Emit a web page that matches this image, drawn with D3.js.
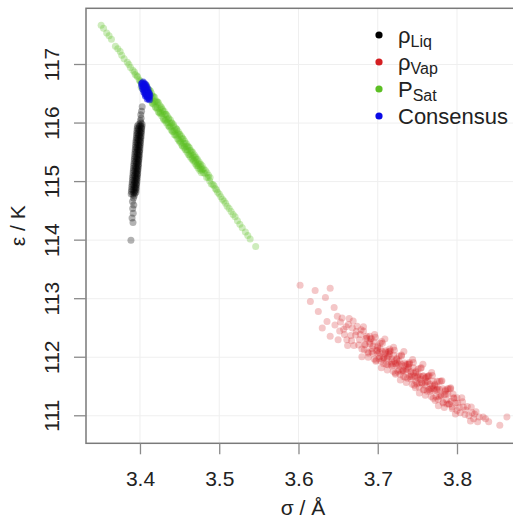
<!DOCTYPE html>
<html><head><meta charset="utf-8">
<script src="https://cdn.jsdelivr.net/npm/d3@7"></script>
<style>
html,body{margin:0;padding:0;background:#fff;}
svg{display:block;font-family:"Liberation Sans",Arial,Helvetica,sans-serif;}
</style></head>
<body>
<svg id="chart" width="513" height="519"></svg>
<script>
// ---- data: [sigma (Å), epsilon (K)] ----
const liqPoints = [
 [3.4028,116.28],[3.4020,116.20],[3.4010,116.14],[3.4015,116.08],[3.4005,116.04],
 [3.4012,116.00],[3.3985,115.98],[3.4005,115.96],[3.3992,115.94],[3.4015,115.92],[3.3980,115.90],
 [3.4000,115.88],[3.3990,115.86],[3.4008,115.84],[3.3975,115.82],[3.3995,115.80],[3.3982,115.78],
 [3.4002,115.76],[3.3970,115.74],[3.3990,115.72],[3.3978,115.70],[3.3998,115.68],[3.3965,115.66],
 [3.3985,115.64],[3.3975,115.62],[3.3992,115.60],[3.3960,115.58],[3.3980,115.56],[3.3970,115.54],
 [3.3988,115.52],[3.3958,115.50],[3.3976,115.48],[3.3966,115.46],[3.3984,115.44],[3.3952,115.42],
 [3.3972,115.40],[3.3962,115.38],[3.3980,115.36],[3.3948,115.34],[3.3968,115.32],[3.3955,115.30],
 [3.3975,115.28],[3.3942,115.26],[3.3962,115.24],[3.3950,115.22],[3.3968,115.20],[3.3938,115.18],
 [3.3958,115.16],[3.3946,115.14],[3.3962,115.12],[3.3932,115.10],[3.3952,115.08],[3.3940,115.06],
 [3.3956,115.04],[3.3926,115.02],[3.3945,115.00],[3.3933,114.98],[3.3950,114.96],[3.3920,114.94],
 [3.3940,114.92],[3.3928,114.90],[3.3944,114.88],[3.3915,114.86],[3.3934,114.84],[3.3922,114.82],
 [3.3936,114.80],[3.3912,114.78],[3.3928,114.76],
 [3.3918,114.72],[3.3905,114.66],[3.3922,114.60],[3.3908,114.54],[3.3915,114.46],[3.3900,114.38],
 [3.3912,114.30],[3.3886,114.00],
 [3.4027,115.98],[3.4025,115.94],[3.4022,115.90],[3.4019,115.86],[3.4017,115.82],[3.4014,115.78],
 [3.4011,115.74],[3.4008,115.70],[3.4006,115.66],[3.4003,115.62],[3.4000,115.58],[3.3998,115.54],
 [3.3995,115.50],[3.3992,115.46],[3.3990,115.42],[3.3987,115.38],[3.3984,115.34],[3.3981,115.30],
 [3.3979,115.26],[3.3976,115.22],[3.3973,115.18],[3.3971,115.14],[3.3968,115.10],[3.3965,115.06],
 [3.3963,115.02],[3.3960,114.98],[3.3957,114.94],[3.3954,114.90],[3.3952,114.86],[3.3949,114.82],
 [3.3967,115.95],[3.3965,115.91],[3.3962,115.87],[3.3959,115.83],[3.3957,115.79],[3.3954,115.75],
 [3.3951,115.71],[3.3948,115.67],[3.3946,115.63],[3.3943,115.59],[3.3940,115.55],[3.3938,115.51],
 [3.3935,115.47],[3.3932,115.43],[3.3930,115.39],[3.3927,115.35],[3.3924,115.31],[3.3921,115.27],
 [3.3919,115.23],[3.3916,115.19],[3.3913,115.15],[3.3911,115.11],[3.3908,115.07],[3.3905,115.03],
 [3.3903,114.99],[3.3900,114.95],[3.3897,114.91],[3.3894,114.87],[3.3892,114.83],[3.3889,114.79]
];
const vapPoints = [
 [3.602,113.23],[3.621,113.14],[3.634,113.02],[3.640,113.18],[3.625,112.78],[3.636,112.61],
 [3.649,112.70],[3.640,112.36],[3.615,112.95],[3.645,112.85],[3.652,112.45],[3.630,112.50],
 [3.655,112.67],[3.658,112.39],[3.660,112.52],[3.662,112.20],[3.664,112.66],[3.666,112.37],
 [3.668,112.50],[3.670,112.20],[3.672,112.38],[3.674,112.53],[3.676,112.21],[3.678,112.39],
 [3.680,112.01],[3.682,112.52],[3.684,112.22],[3.686,112.36],[3.688,112.07],[3.690,112.26],
 [3.646,112.55],[3.650,112.30],[3.653,112.60],[3.657,112.48],[3.661,112.30],[3.663,112.56],
 [3.667,112.28],[3.669,112.62],[3.673,112.44],[3.677,112.30],[3.679,112.47],[3.683,112.13],
 [3.6910,112.31],[3.6925,112.10],[3.6940,112.19],[3.6955,111.97],[3.6970,112.34],[3.6985,112.11],
 [3.7000,112.19],[3.7015,111.98],[3.7030,112.24],[3.7045,111.82],[3.7060,112.10],[3.7075,111.99],
 [3.7090,112.31],[3.7105,111.88],[3.7120,112.00],[3.7135,112.09],[3.7150,112.10],[3.7165,111.88],
 [3.7180,111.97],[3.7195,111.76],[3.7210,112.12],[3.7225,111.89],[3.7240,111.98],[3.7255,111.76],
 [3.7270,112.02],[3.7285,111.61],[3.7300,111.88],[3.7315,111.78],[3.7330,112.10],[3.7345,111.66],
 [3.7360,111.79],[3.7375,111.88],[3.7390,111.88],[3.7405,111.67],[3.7420,111.75],[3.7435,111.54],
 [3.7450,111.91],[3.7465,111.67],[3.7480,111.76],[3.7495,111.55],[3.7510,111.80],[3.7525,111.39],
 [3.7540,111.67],[3.7555,111.56],[3.7570,111.88],[3.7585,111.45],[3.7600,111.57],[3.7615,111.66],
 [3.7630,111.67],[3.7645,111.45],[3.7660,111.54],[3.7675,111.33],[3.7690,111.69],[3.7705,111.46],
 [3.7720,111.54],[3.7735,111.33],[3.7750,111.59],[3.7765,111.17],[3.7780,111.45],[3.7795,111.35],
 [3.7810,111.60],[3.7825,111.23],[3.7840,111.36],[3.7855,111.44],[3.7870,111.27],[3.7885,111.37],
 [3.7900,111.20],
 [3.700,112.06],[3.703,112.15],[3.706,111.97],[3.709,112.06],[3.712,111.98],[3.715,112.06],
 [3.718,111.88],[3.721,111.93],[3.724,111.86],[3.727,111.93],[3.730,111.76],[3.733,111.85],
 [3.736,111.76],[3.739,111.83],[3.742,111.67],[3.745,111.73],[3.748,111.59],[3.751,111.70],
 [3.754,111.62],[3.757,111.68],[3.760,111.52],[3.763,111.59],[3.766,111.45],[3.769,111.51],
 [3.772,111.43],[3.775,111.49],
 [3.680,112.14],[3.682,112.45],[3.684,112.21],[3.686,112.33],[3.688,112.00],[3.690,112.23],
 [3.692,112.32],[3.694,112.07],[3.696,112.39],[3.698,111.95],[3.700,112.17],[3.702,112.08],
 [3.704,111.93],[3.706,112.24],[3.708,111.99],[3.710,112.11],[3.712,111.78],[3.714,112.02],
 [3.716,112.11],[3.718,111.85],[3.720,112.17],[3.722,111.73],[3.724,111.96],[3.726,111.87],
 [3.728,111.71],[3.730,112.02],[3.732,111.77],[3.734,111.90],[3.736,111.57],[3.738,111.80],
 [3.740,111.89],[3.742,111.63],[3.744,111.96],[3.746,111.52],[3.748,111.74],[3.750,111.65],
 [3.752,111.49],[3.754,111.81],[3.756,111.56],[3.758,111.68],[3.760,111.35],[3.762,111.58],
 [3.764,111.68],[3.766,111.42],[3.768,111.74],[3.770,111.30],[3.772,111.52],[3.774,111.44],
 [3.776,111.28],[3.778,111.59],[3.780,111.34],[3.782,111.46],[3.784,111.14],[3.786,111.37],
 [3.788,111.46],[3.790,111.20],[3.792,111.48],[3.794,111.12],[3.796,111.31],[3.798,111.22],
 [3.800,111.09],
 [3.6850,112.32],[3.6875,112.09],[3.6900,112.36],[3.6925,112.15],[3.6950,112.27],[3.6975,111.93],
 [3.7000,112.12],[3.7025,112.01],[3.7050,112.27],[3.7075,111.89],[3.7100,112.09],[3.7125,111.87],
 [3.7150,112.14],[3.7175,111.92],[3.7200,112.04],[3.7225,111.71],[3.7250,111.90],[3.7275,111.78],
 [3.7300,112.04],[3.7325,111.67],[3.7350,111.87],[3.7375,111.64],[3.7400,111.91],[3.7425,111.70],
 [3.7450,111.82],[3.7475,111.48],[3.7500,111.67],[3.7525,111.56],[3.7550,111.82],[3.7575,111.44],
 [3.7600,111.64],[3.7625,111.42],[3.7650,111.69],[3.7675,111.47],[3.7700,111.59],[3.7725,111.26],
 [3.7750,111.45],[3.7775,111.33],[3.7800,111.59],[3.7825,111.22],[3.7850,111.42],[3.7875,111.20],
 [3.7900,111.46],[3.7925,111.25],[3.7950,111.37],
 [3.792,111.46],[3.794,111.15],[3.796,111.30],[3.798,111.03],[3.800,111.31],[3.803,111.14],
 [3.806,111.31],[3.808,111.15],[3.810,111.02],[3.813,111.16],[3.817,110.91],[3.819,111.05],
 [3.822,111.03],[3.826,110.90],[3.833,110.98],[3.840,110.90],[3.854,110.84],[3.863,110.98],
 [3.801,111.22],[3.804,111.05],[3.807,111.24],[3.811,111.10],[3.815,111.00],[3.818,111.15],
 [3.821,110.95],[3.824,111.07],[3.828,110.98],[3.836,110.95]
];
const satPoints = [
 [3.351,117.67],[3.358,117.54],[3.364,117.43],[3.369,117.31],[3.375,117.22],[3.380,117.10],
 [3.384,117.04],[3.388,116.95],[3.391,116.90],[3.394,116.83],[3.397,116.79],[3.399,116.74],
 [3.401,116.70],[3.403,116.67],
 [3.354,117.62],[3.361,117.49],[3.372,117.27],[3.377,117.16],[3.386,117.00],[3.393,116.87],
 [3.396,116.81],[3.400,116.72],[3.402,116.68],
 [3.404,116.69],[3.405,116.56],[3.406,116.62],[3.407,116.55],[3.408,116.64],[3.409,116.47],
 [3.410,116.53],[3.411,116.55],[3.412,116.44],[3.413,116.55],[3.414,116.43],[3.415,116.46],
 [3.416,116.34],[3.417,116.45],[3.418,116.36],[3.419,116.37],[3.420,116.27],[3.421,116.36],
 [3.422,116.26],[3.423,116.35],[3.424,116.18],[3.425,116.25],[3.426,116.18],[3.427,116.26],
 [3.428,116.16],[3.429,116.20],[3.430,116.06],[3.431,116.15],[3.432,116.05],[3.433,116.15],
 [3.434,116.06],[3.435,116.01],[3.436,116.07],[3.437,115.94],[3.438,116.00],[3.439,115.95],
 [3.440,116.00],[3.441,115.86],[3.442,115.95],[3.443,115.86],[3.444,115.88],[3.445,115.80],
 [3.446,115.90],[3.447,115.79],[3.448,115.82],[3.449,115.71],[3.450,115.80],[3.451,115.69],
 [3.452,115.73],[3.453,115.62],[3.454,115.73],[3.455,115.65],[3.456,115.60],[3.457,115.65],
 [3.458,115.55],[3.459,115.60],[3.460,115.54],[3.461,115.59],[3.462,115.46],[3.463,115.53],
 [3.464,115.47],[3.465,115.50],[3.466,115.40],[3.467,115.44],[3.468,115.37],[3.469,115.41],
 [3.470,115.34],[3.471,115.38],[3.472,115.28],[3.473,115.31],[3.474,115.27],[3.475,115.30],
 [3.476,115.22],[3.477,115.25],[3.478,115.20],[3.479,115.21],[3.480,115.15],[3.482,115.14],
 [3.484,115.07],[3.486,115.07],[3.488,115.01],[3.490,114.96],[3.492,114.95],
 [3.495,114.88],[3.498,114.82],[3.502,114.74],[3.506,114.67],[3.510,114.58],[3.515,114.49],
 [3.520,114.40],[3.526,114.27],[3.533,114.14],[3.539,114.02],[3.546,113.89],
 [3.4935,114.93],[3.4965,114.86],[3.500,114.79],[3.504,114.70],[3.508,114.63],[3.5125,114.54],
 [3.5175,114.44],[3.523,114.33],[3.529,114.21],[3.536,114.08],
 [3.4085,116.64],[3.4105,116.58],[3.4125,116.55],[3.4145,116.51],[3.4165,116.46],[3.4185,116.44],
 [3.4205,116.38],[3.4225,116.36],[3.4245,116.31],[3.4265,116.28],[3.4285,116.23],[3.4305,116.20],
 [3.4325,116.15],[3.4345,116.12],[3.4365,116.08],[3.4385,116.05],[3.4405,116.00],[3.4425,115.97],
 [3.4445,115.92],[3.4465,115.89],[3.4485,115.85],[3.4505,115.81],[3.4525,115.77],[3.4545,115.73],
 [3.4565,115.69],[3.4585,115.65],[3.4605,115.61],[3.4625,115.58],[3.4645,115.53],[3.4665,115.50],
 [3.4685,115.46],[3.4705,115.42],[3.4725,115.38],[3.4745,115.34],[3.4765,115.30],[3.4785,115.27],
 [3.4805,115.22],[3.4825,115.19],[3.4845,115.15],[3.4865,115.11],[3.4885,115.07],
 [3.4015,116.61],[3.4035,116.59],[3.4055,116.54],[3.4075,116.51],[3.4095,116.47],[3.4115,116.42],
 [3.4135,116.40],[3.4155,116.34],[3.4175,116.32],[3.4195,116.27],[3.4215,116.24],[3.4235,116.19],
 [3.4255,116.16],[3.4275,116.12],[3.4295,116.08],[3.4315,116.04],[3.4335,116.00],[3.4355,115.96],
 [3.4375,115.93],[3.4395,115.88],[3.4415,115.85],[3.4435,115.80],[3.4455,115.78],[3.4475,115.73],
 [3.4495,115.69],[3.4515,115.66],[3.4535,115.61],[3.4555,115.58],[3.4575,115.54],[3.4595,115.50],
 [3.4615,115.46],[3.4635,115.42],[3.4655,115.38],[3.4675,115.35],[3.4695,115.31],[3.4715,115.27],
 [3.4735,115.23],[3.4755,115.19],[3.4775,115.15]
];
const consensusPoints = [
 [3.4030,116.68],[3.4045,116.66],[3.4040,116.62],[3.4055,116.64],[3.4060,116.60],[3.4050,116.57],
 [3.4070,116.58],[3.4065,116.54],[3.4075,116.52],[3.4080,116.55],[3.4085,116.49],[3.4090,116.46],
 [3.4095,116.50],[3.4100,116.44],[3.4105,116.47],[3.4110,116.42],[3.4035,116.58],[3.4025,116.63],
 [3.4058,116.67],[3.4072,116.62],[3.4088,116.57],[3.4098,116.53],[3.4115,116.45],[3.4063,116.50],
 [3.4078,116.48],[3.4048,116.53],[3.4068,116.46],[3.4092,116.41],[3.4120,116.40],[3.4020,116.67],
 [3.4040,116.70],[3.4052,116.61],[3.4083,116.51],
 [3.4125,116.47],[3.4110,116.52],[3.4100,116.58],[3.4085,116.62],[3.4070,116.66],[3.4118,116.50]
];
const xTicks = [3.4, 3.5, 3.6, 3.7, 3.8];
const yTicks = [111, 112, 113, 114, 115, 116, 117];
const xDomain = [3.3319, 3.8795];
const yDomain = [110.53, 117.96];

// ---- drawing ----
const svg = d3.select("#chart");
const M = {left: 86, top: 8.3, right: 520, bottom: 443.3};
const x = d3.scaleLinear().domain(xDomain).range([M.left, M.right]);
const y = d3.scaleLinear().domain(yDomain).range([M.bottom, M.top]);

const series = [
  {name: "Liq", data: liqPoints, color: "#000000", op: 0.30},
  {name: "Vap", data: vapPoints, color: "#d41f22", op: 0.25},
  {name: "Sat", data: satPoints, color: "#5cbf24", op: 0.30},
  {name: "Consensus", data: consensusPoints, color: "#0a0ae6", op: 0.55}
];

// grid
const grid = svg.append("g");
grid.selectAll("line.gx").data(xTicks).join("line")
  .attr("x1", d => x(d)).attr("x2", d => x(d))
  .attr("y1", M.top).attr("y2", M.bottom)
  .attr("stroke", "#efefef").attr("stroke-width", 1);
grid.selectAll("line.gy").data(yTicks).join("line")
  .attr("y1", d => y(d)).attr("y2", d => y(d))
  .attr("x1", M.left).attr("x2", M.right)
  .attr("stroke", "#efefef").attr("stroke-width", 1);

// points
series.forEach(s => {
  svg.append("g").selectAll("circle").data(s.data).join("circle")
    .attr("cx", d => x(d[0])).attr("cy", d => y(d[1]))
    .attr("r", 3.5).attr("fill", s.color).attr("fill-opacity", s.op);
});

// box
svg.append("rect").attr("x", M.left).attr("y", M.top)
  .attr("width", M.right - M.left).attr("height", M.bottom - M.top)
  .attr("fill", "none").attr("stroke", "#7a7a7a").attr("stroke-width", 1.5);

// axes
const xAxis = svg.append("g").attr("transform", `translate(0,${M.bottom})`)
  .call(d3.axisBottom(x).tickValues(xTicks).tickFormat(d3.format(".1f")).tickSize(11).tickPadding(17));
const yAxis = svg.append("g").attr("transform", `translate(${M.left},0)`)
  .call(d3.axisLeft(y).tickValues(yTicks).tickFormat(d3.format("d")).tickSize(12).tickPadding(10));
[xAxis, yAxis].forEach(a => {
  a.select(".domain").remove();
  a.selectAll(".tick line").attr("stroke", "#8a8a8a").attr("stroke-width", 1.3);
  a.selectAll(".tick text").attr("fill", "#222").style("font-size", "21px");
});
xAxis.selectAll(".tick text").attr("dy", "0.71em");
yAxis.selectAll(".tick").attr("transform", null);
yAxis.selectAll(".tick line").attr("transform", d => `translate(0,${y(d)})`);
yAxis.selectAll(".tick text")
  .attr("transform", d => `translate(-34,${y(d)}) rotate(-90)`)
  .attr("x", 0).attr("y", 0).attr("dy", "0.35em")
  .attr("text-anchor", "middle");

// axis titles
svg.append("text").attr("x", 303).attr("y", 515).attr("text-anchor", "middle")
  .attr("fill", "#222").style("font-size", "21px").text("σ / Å");
svg.append("text").attr("transform", `translate(25,${(M.top + M.bottom) / 2}) rotate(-90)`)
  .attr("text-anchor", "middle").attr("fill", "#222").style("font-size", "21px").text("ε / K");

// legend
const legendRows = [
  {main: "ρ", sub: "Liq", color: "#000000", y: 35},
  {main: "ρ", sub: "Vap", color: "#d41f22", y: 62},
  {main: "P", sub: "Sat", color: "#5cbf24", y: 89},
  {main: "Consensus", sub: null, color: "#0a0ae6", y: 116}
];
const lg = svg.append("g");
legendRows.forEach(r => {
  lg.append("circle").attr("cx", 379).attr("cy", r.y).attr("r", 3.6).attr("fill", r.color);
  const t = lg.append("text").attr("x", 398).attr("y", r.y + 8).attr("fill", "#222").style("font-size", "22px");
  t.append("tspan").text(r.main);
  if (r.sub) t.append("tspan").attr("dy", 4).style("font-size", "16px").text(r.sub);
});
</script>
</body></html>
